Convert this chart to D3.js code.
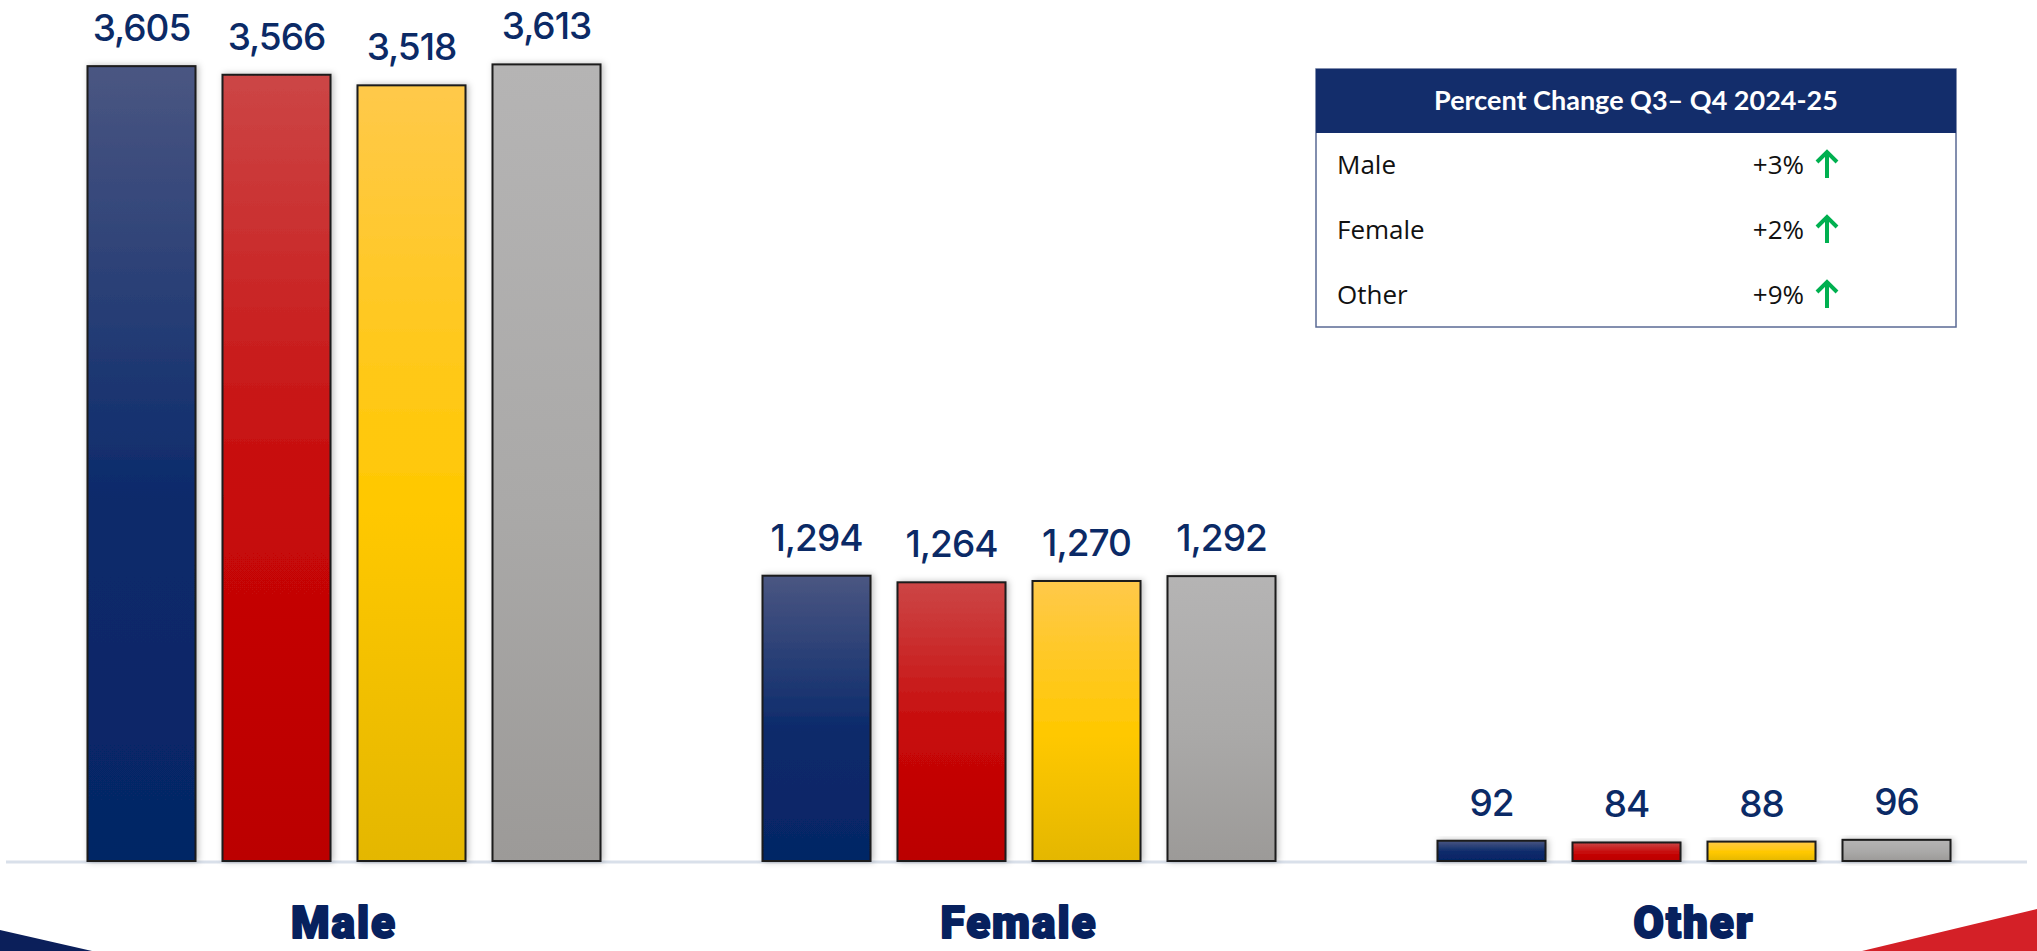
<!DOCTYPE html>
<html>
<head>
<meta charset="utf-8">
<script src="https://cdn.jsdelivr.net/npm/d3@7"></script>
<style>
  html, body { margin: 0; padding: 0; background: #fff; }
  svg { display: block; }
</style>
</head>
<body>
<svg width="2037" height="951"></svg>
<script>
var svg = d3.select("svg");
var width = +svg.attr("width");
var height = +svg.attr("height");

// data
var categories = ["Male", "Female", "Other"];
var quarters = ["Q1 2024-25", "Q2 2024-25", "Q3 2024-25", "Q4 2024-25"];
var q1Values = [3605, 1294, 92];
var q2Values = [3566, 1264, 84];
var q3Values = [3518, 1270, 88];
var q4Values = [3613, 1292, 96];
var changeLabels = ["Male", "Female", "Other"];
var changeValues = ["+3%", "+2%", "+9%"];

var seriesValues = [q1Values, q2Values, q3Values, q4Values];

// gradient colours per quarter: top tint, mid, bottom
var barColors = [
    ["#4a5682", "#0b2a6b", "#052565"],
    ["#cc4646", "#c70808", "#bb0000"],
    ["#ffc94a", "#ffc800", "#e4b700"],
    ["#b5b4b4", "#aaa9a8", "#9c9a98"]
];

// scales
var x0 = d3.scaleBand().domain(categories).range([74, 1964]).paddingInner(0.2).paddingOuter(0);
var x1 = d3.scaleBand().domain(quarters).range([0, x0.bandwidth()]).paddingInner(0.2).paddingOuter(0.1);
var y = d3.scaleLinear().domain([0, 3905]).range([861, 0]);

var defs = svg.append("defs");

barColors.forEach(function(c, i) {
    var grad = defs.append("linearGradient")
        .attr("id", "grad" + i)
        .attr("x1", 0).attr("y1", 0).attr("x2", 0).attr("y2", 1);
    grad.append("stop").attr("offset", "0%").attr("stop-color", c[0]);
    grad.append("stop").attr("offset", "55%").attr("stop-color", c[1]);
    grad.append("stop").attr("offset", "100%").attr("stop-color", c[2]);
});

var shadow = defs.append("filter").attr("id", "shadow")
    .attr("x", "-20%").attr("y", "-20%").attr("width", "140%").attr("height", "140%");
shadow.append("feDropShadow")
    .attr("dx", 2).attr("dy", 0).attr("stdDeviation", 3)
    .attr("flood-color", "#000").attr("flood-opacity", 0.25);

// corner decorations
svg.append("path")
    .attr("d", "M0,930 L92," + height + " L0," + height + " Z")
    .attr("fill", "#0b1f5a");
svg.append("path")
    .attr("d", "M" + width + ",909 L" + width + "," + height + " L1862," + height + " Z")
    .attr("fill", "#d42027");

// baseline
svg.append("line")
    .attr("x1", 6).attr("x2", 2027)
    .attr("y1", y(0) + 1).attr("y2", y(0) + 1)
    .attr("stroke", "#d9e0ea")
    .attr("stroke-width", 3);

// bars
var rows = categories.map(function(c, ci) {
    return quarters.map(function(q, qi) {
        return { cat: c, q: q, qi: qi, value: seriesValues[qi][ci] };
    });
});

var groups = svg.selectAll("g.group")
    .data(rows)
    .enter()
    .append("g")
        .attr("class", "group")
        .attr("transform", function(d, i) { return "translate(" + x0(categories[i]) + ",0)"; });

groups.selectAll("rect")
    .data(function(d) { return d; })
    .enter()
    .append("rect")
        .attr("x", function(d) { return x1(d.q); })
        .attr("y", function(d) { return y(d.value); })
        .attr("width", x1.bandwidth())
        .attr("height", function(d) { return y(0) - y(d.value); })
        .attr("fill", function(d) { return "url(#grad" + d.qi + ")"; })
        .attr("stroke", "#1a1a1a")
        .attr("stroke-width", 2)
        .attr("filter", "url(#shadow)");

groups.selectAll("text.value")
    .data(function(d) { return d; })
    .enter()
    .append("text")
        .attr("class", "value")
        .attr("x", function(d) { return x1(d.q) + x1.bandwidth() / 2; })
        .attr("y", function(d) { return y(d.value) - 25; })
        .attr("text-anchor", "middle")
        .style("font-family", "Inter, 'Noto Sans', sans-serif")
        .style("font-weight", 500)
        .style("font-size", "37px")
        .style("letter-spacing", "-1px")
        .attr("fill", "#0b2a66")
        .text(function(d) { return d3.format(",")(d.value); });

// category labels
svg.selectAll("text.cat")
    .data(categories)
    .enter()
    .append("text")
        .attr("class", "cat")
        .attr("x", function(d) { return x0(d) + x0.bandwidth() / 2; })
        .attr("y", 938)
        .attr("text-anchor", "middle")
        .style("font-family", "Roboto, Inter, sans-serif")
        .style("font-weight", 900)
        .style("font-size", "44px")
        .style("letter-spacing", "2px")
        .attr("fill", "#07215e")
        .attr("stroke", "#07215e")
        .attr("stroke-width", 2)
        .attr("stroke-linejoin", "round")
        .text(function(d) { return d; });

// percent change table
var tbl = svg.append("g").attr("class", "table");
var tx = 1316, ty = 69, tw = 640, th = 258, hh = 64;

tbl.append("rect")
    .attr("x", tx).attr("y", ty).attr("width", tw).attr("height", th)
    .attr("fill", "#fff")
    .attr("stroke", "#5a6a94")
    .attr("stroke-width", 1.5);
tbl.append("rect")
    .attr("x", tx).attr("y", ty).attr("width", tw).attr("height", hh)
    .attr("fill", "#132d6b");
tbl.append("text")
    .attr("x", tx + tw / 2)
    .attr("y", ty + 41)
    .attr("text-anchor", "middle")
    .style("font-family", "Lato, 'Open Sans', sans-serif")
    .style("font-weight", 700)
    .style("font-size", "27px")
    .attr("fill", "#fff")
    .text("Percent Change Q3\u2013 Q4 2024-25");

var rowY = d3.scalePoint().domain(changeLabels).range([174, 304]);

tbl.selectAll("text.rowlabel")
    .data(changeLabels)
    .enter()
    .append("text")
        .attr("class", "rowlabel")
        .attr("x", 1337)
        .attr("y", function(d) { return rowY(d); })
        .style("font-family", "'Open Sans', Lato, sans-serif")
        .style("font-size", "26px")
        .attr("fill", "#111")
        .text(function(d) { return d; });

tbl.selectAll("text.rowvalue")
    .data(changeValues)
    .enter()
    .append("text")
        .attr("class", "rowvalue")
        .attr("x", 1804)
        .attr("y", function(d, i) { return rowY(changeLabels[i]); })
        .attr("text-anchor", "end")
        .style("font-family", "'Open Sans', Lato, sans-serif")
        .style("font-size", "26px")
        .attr("fill", "#111")
        .text(function(d) { return d; });

// green up arrows
var arrows = tbl.selectAll("g.arrow")
    .data(changeLabels)
    .enter()
    .append("g")
        .attr("class", "arrow")
        .attr("transform", function(d) { return "translate(1827," + (rowY(d) - 23) + ")"; });
arrows.append("line")
    .attr("x1", 0).attr("x2", 0).attr("y1", 2).attr("y2", 27)
    .attr("stroke", "#00b050").attr("stroke-width", 4);
arrows.append("path")
    .attr("d", "M-10,11 L0,1 L10,11")
    .attr("fill", "none")
    .attr("stroke", "#00b050")
    .attr("stroke-width", 4)
    .attr("stroke-linejoin", "miter");
</script>
</body>
</html>
